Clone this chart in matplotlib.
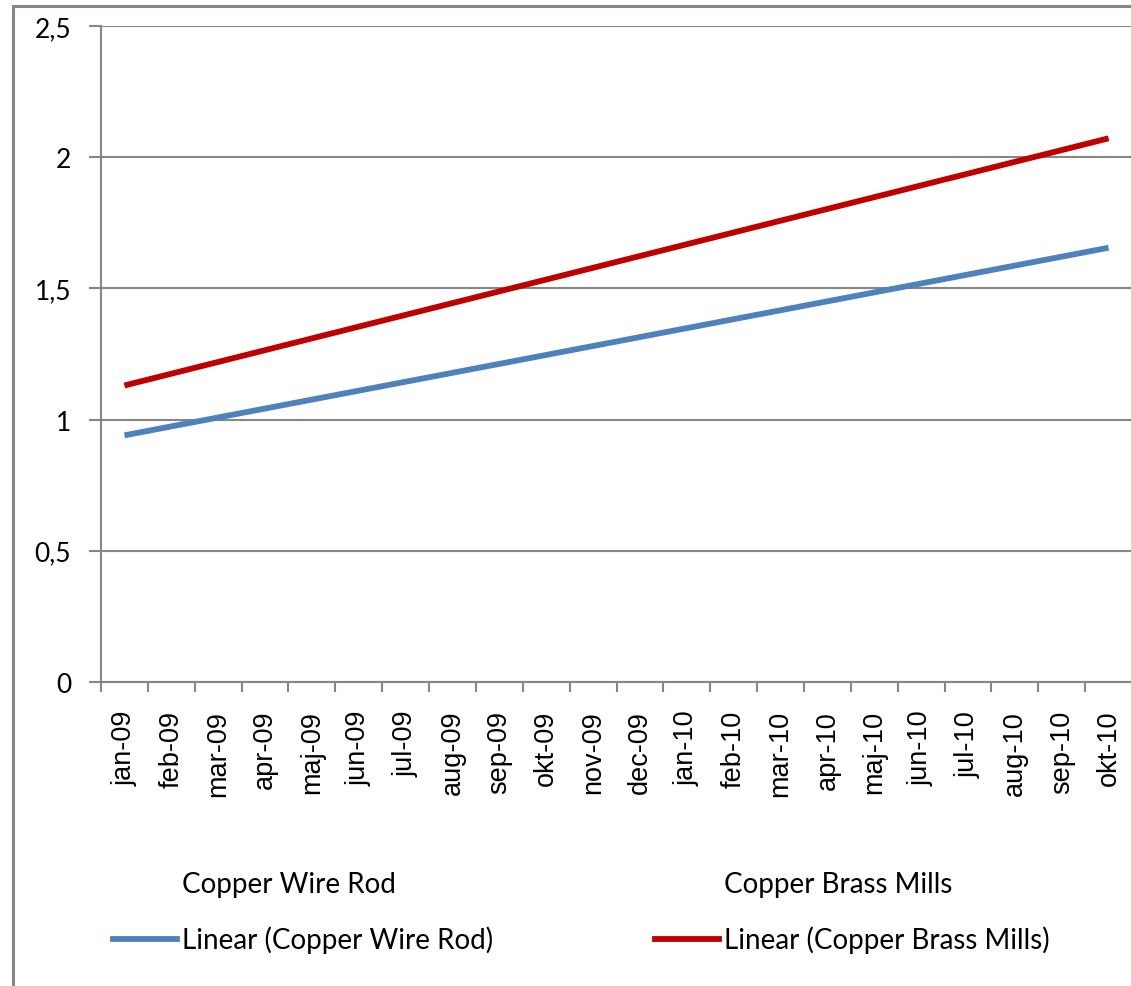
import matplotlib
matplotlib.use("Agg")
import matplotlib.pyplot as plt
from matplotlib.lines import Line2D
from matplotlib.patches import Rectangle
from matplotlib.ticker import FixedLocator, NullFormatter

# Monthly categories
months = ["jan-09", "feb-09", "mar-09", "apr-09", "maj-09", "jun-09", "jul-09",
          "aug-09", "sep-09", "okt-09", "nov-09", "dec-09", "jan-10", "feb-10",
          "mar-10", "apr-10", "maj-10", "jun-10", "jul-10", "aug-10", "sep-10",
          "okt-10"]

# Linear trend values at the first and last month
wire_rod_trend = [0.94, 1.655]
brass_mills_trend = [1.13, 2.072]

y_ticks = [0, 0.5, 1, 1.5, 2, 2.5]
y_tick_labels = ["0", "0,5", "1", "1,5", "2", "2,5"]

BLUE = "#4F81BD"
RED = "#C00000"
GRAY = "#868686"

W, H = 1131, 987
fig = plt.figure(figsize=(W / 100, H / 100), dpi=100)

# Chart-area border (left and top edges)
fig.add_artist(Rectangle((12.5 / W, -0.05), 1.2, 1 - 6.5 / H + 0.05,
                         transform=fig.transFigure, fill=False,
                         edgecolor=GRAY, linewidth=2.2, zorder=0))

ax = fig.add_axes([101 / W, 1 - 683 / H, 1031 / W, (683 - 27) / H])

x_ends = [0, len(months) - 1]
ax.plot(x_ends, wire_rod_trend, color=BLUE, lw=4.2, solid_capstyle="butt", zorder=3)
ax.plot(x_ends, brass_mills_trend, color=RED, lw=4.2, solid_capstyle="butt", zorder=3)

ax.set_xlim(-0.5, len(months) - 0.5)
ax.set_ylim(0, 2.5)

for s in ["top", "right"]:
    ax.spines[s].set_visible(False)
for s in ["left", "bottom"]:
    ax.spines[s].set_color(GRAY)
    ax.spines[s].set_linewidth(1.5)

ax.set_yticks(y_ticks)
ax.set_yticklabels(y_tick_labels, fontfamily="Lato", fontsize=19)
ax.tick_params(axis="y", length=8.5, width=1.5, color=GRAY, pad=13)
ax.yaxis.grid(True, color=GRAY, linewidth=1.5)
ax.set_axisbelow(True)

ax.set_xticks(range(len(months)))
ax.set_xticklabels(months, rotation=90, fontfamily="Liberation Sans", fontsize=19.5)
ax.tick_params(axis="x", which="major", length=0, pad=20)
ax.xaxis.set_minor_locator(FixedLocator([i + 0.5 for i in range(-1, len(months))]))
ax.xaxis.set_minor_formatter(NullFormatter())
ax.tick_params(axis="x", which="minor", length=7.5, width=1.5, color=GRAY)

# Legend below the plot
handles = [Line2D([], [], linestyle="none"),
           Line2D([], [], color=BLUE, lw=4.2),
           Line2D([], [], linestyle="none"),
           Line2D([], [], color=RED, lw=4.2)]
labels = ["Copper Wire Rod", "Linear (Copper Wire Rod)",
          "Copper Brass Mills", "Linear (Copper Brass Mills)"]
fig.legend(handles, labels, ncol=2, loc="upper left",
           bbox_to_anchor=(88 / W, 1 - 847 / H),
           frameon=False, prop={"family": "Lato", "size": 20},
           handlelength=2.3, handletextpad=0.2, columnspacing=5.8,
           labelspacing=1.04)

fig.savefig("out.png", dpi=100, facecolor="white")
